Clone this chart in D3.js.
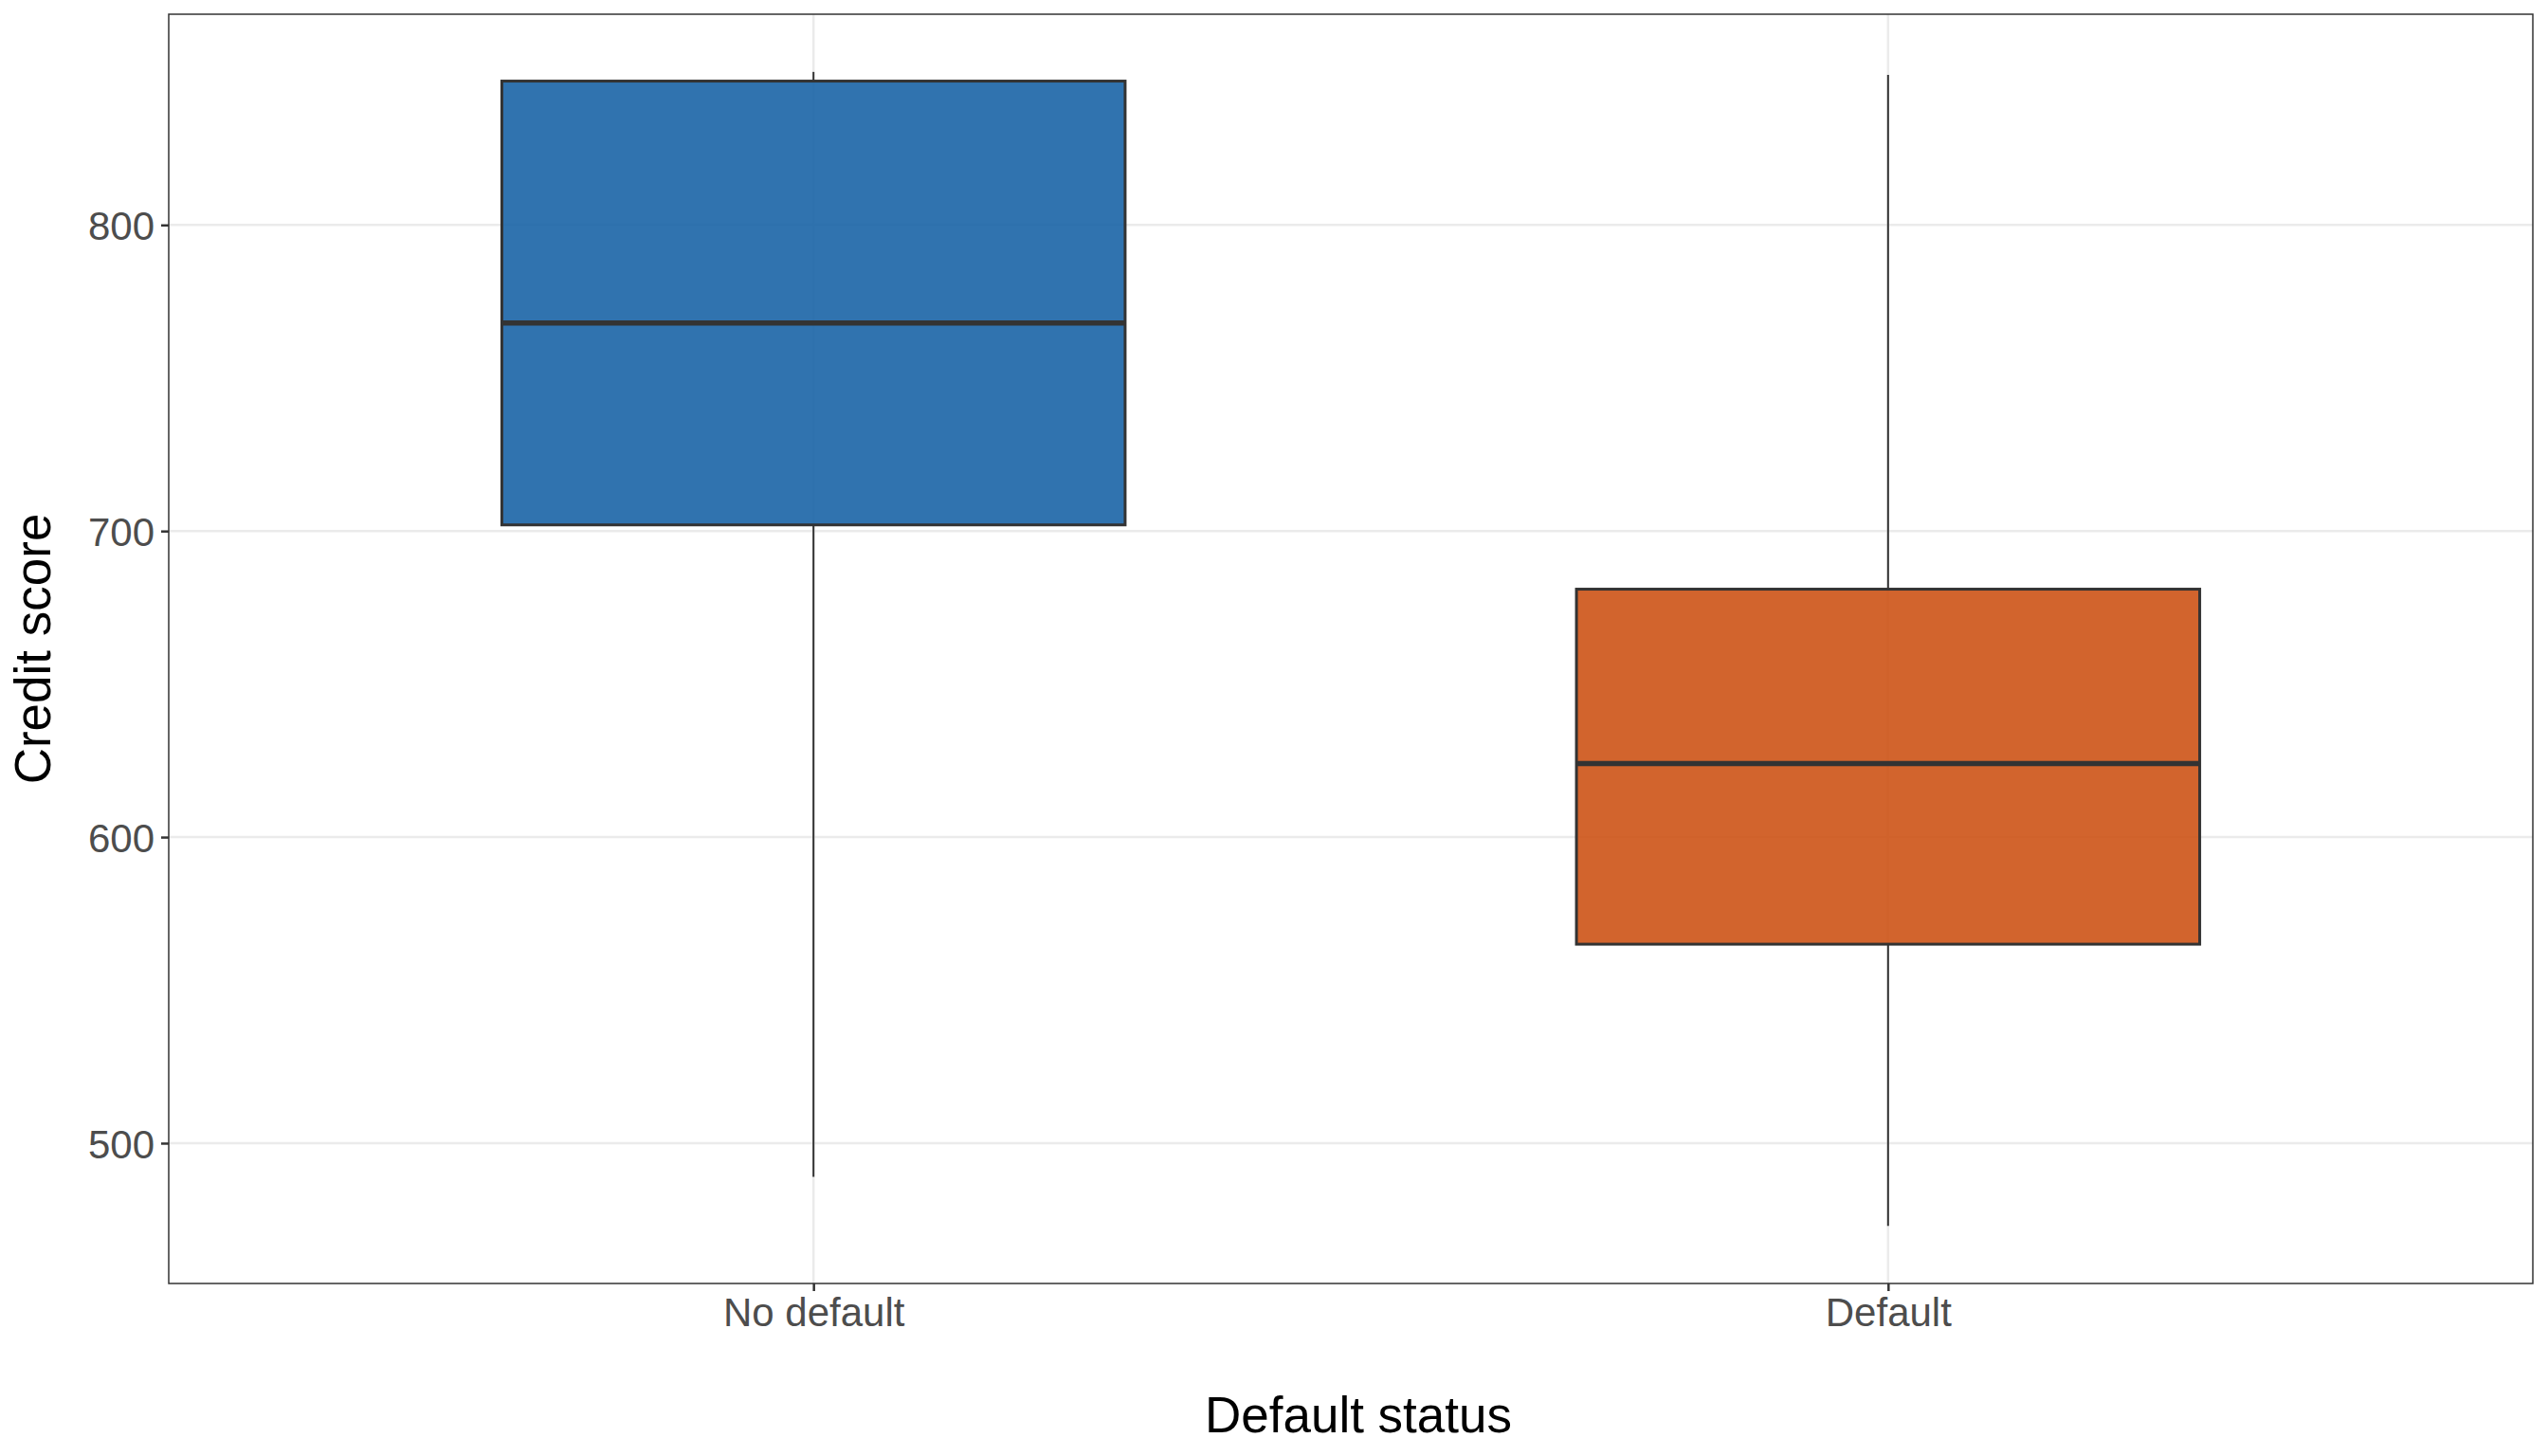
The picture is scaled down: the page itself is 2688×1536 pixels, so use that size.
<!DOCTYPE html>
<html>
<head>
<meta charset="utf-8">
<script src="https://cdn.jsdelivr.net/npm/d3@7"></script>
<style>
  html, body { margin: 0; padding: 0; background: #fff; }
  svg { display: block; }
</style>
</head>
<body>
<div id="canvas"></div>
<script>
// Box plot statistics.
const categories = ["No default", "Default"];
const whiskerLow = [489, 473];
const q1 = [702, 565];
const median = [768, 624];
const q3 = [847, 681];
const whiskerHigh = [850, 849];
const yTicks = [500, 600, 700, 800];
const fillColors = ["#1A64A6", "#CD5316"];

// Dimension and style constants.
const WIDTH = 2688;
const HEIGHT = 1536;
const MARGIN = { top: 15, right: 16, bottom: 182, left: 178 };
const FONT = "'Liberation Sans', Arial, sans-serif";
const LINE_COLOR = "#333333";
const GRID_COLOR = "#EBEBEB";
const TICK_TEXT_COLOR = "#4D4D4D";

const boxes = categories.map((c, i) => ({
    category: c,
    low: whiskerLow[i],
    q1: q1[i],
    median: median[i],
    q3: q3[i],
    high: whiskerHigh[i],
    fill: fillColors[i]
}));

const svg = d3.select("#canvas")
    .append("svg")
    .attr("width", WIDTH)
    .attr("height", HEIGHT);

// Scales: discrete x with ggplot-like 0.6 padding, y with 5% expansion.
const xScale = d3.scalePoint()
    .domain(categories)
    .range([MARGIN.left, WIDTH - MARGIN.right])
    .padding(0.6);

const yMin = d3.min(whiskerLow);
const yMax = d3.max(whiskerHigh);
const yPad = (yMax - yMin) * 0.05;
const yScale = d3.scaleLinear()
    .domain([yMin - yPad, yMax + yPad])
    .range([HEIGHT - MARGIN.bottom, MARGIN.top]);

const boxWidth = xScale.step() * 0.58;

// Grid lines.
const grid = svg.append("g");
grid.selectAll(".hgrid")
    .data(yTicks)
    .join("line")
    .attr("x1", MARGIN.left)
    .attr("x2", WIDTH - MARGIN.right)
    .attr("y1", d => yScale(d))
    .attr("y2", d => yScale(d))
    .attr("stroke", GRID_COLOR)
    .attr("stroke-width", 2.5);
grid.selectAll(".vgrid")
    .data(categories)
    .join("line")
    .attr("x1", d => xScale(d))
    .attr("x2", d => xScale(d))
    .attr("y1", MARGIN.top)
    .attr("y2", HEIGHT - MARGIN.bottom)
    .attr("stroke", GRID_COLOR)
    .attr("stroke-width", 2.5);

// Boxes.
const boxGroups = svg.append("g")
    .selectAll("g")
    .data(boxes)
    .join("g");

boxGroups.append("line")
    .attr("x1", d => xScale(d.category))
    .attr("x2", d => xScale(d.category))
    .attr("y1", d => yScale(d.q3))
    .attr("y2", d => yScale(d.high))
    .attr("stroke", LINE_COLOR)
    .attr("stroke-width", 2);

boxGroups.append("line")
    .attr("x1", d => xScale(d.category))
    .attr("x2", d => xScale(d.category))
    .attr("y1", d => yScale(d.q1))
    .attr("y2", d => yScale(d.low))
    .attr("stroke", LINE_COLOR)
    .attr("stroke-width", 2);

boxGroups.append("rect")
    .attr("x", d => xScale(d.category) - boxWidth / 2)
    .attr("width", boxWidth)
    .attr("y", d => yScale(d.q3))
    .attr("height", d => yScale(d.q1) - yScale(d.q3))
    .attr("fill", d => d.fill)
    .attr("fill-opacity", 0.9)
    .attr("stroke", LINE_COLOR)
    .attr("stroke-width", 3);

boxGroups.append("line")
    .attr("x1", d => xScale(d.category) - boxWidth / 2)
    .attr("x2", d => xScale(d.category) + boxWidth / 2)
    .attr("y1", d => yScale(d.median))
    .attr("y2", d => yScale(d.median))
    .attr("stroke", LINE_COLOR)
    .attr("stroke-width", 5.5);

// Axes.
const xAxis = d3.axisBottom(xScale).tickSize(8).tickPadding(6);
const yAxis = d3.axisLeft(yScale).tickValues(yTicks).tickSize(8).tickPadding(7);

const xAxisGroup = svg.append("g")
    .attr("transform", `translate(0, ${HEIGHT - MARGIN.bottom})`)
    .call(xAxis);
const yAxisGroup = svg.append("g")
    .attr("transform", `translate(${MARGIN.left}, 0)`)
    .call(yAxis);

[xAxisGroup, yAxisGroup].forEach(g => {
    g.select(".domain").remove();
    g.selectAll(".tick line").attr("stroke", LINE_COLOR).attr("stroke-width", 2.5);
    g.selectAll(".tick text")
        .attr("fill", TICK_TEXT_COLOR)
        .attr("font-family", FONT)
        .attr("font-size", 42);
});
xAxisGroup.selectAll(".tick text").attr("dy", null).attr("y", 45);
yAxisGroup.selectAll(".tick text").attr("dy", "0.36em");

// Panel border.
svg.append("rect")
    .attr("x", MARGIN.left)
    .attr("y", MARGIN.top)
    .attr("width", WIDTH - MARGIN.left - MARGIN.right)
    .attr("height", HEIGHT - MARGIN.top - MARGIN.bottom)
    .attr("fill", "none")
    .attr("stroke", LINE_COLOR)
    .attr("stroke-width", 1.5);

// Axis titles.
svg.append("text")
    .attr("x", (MARGIN.left + WIDTH - MARGIN.right) / 2 + 8)
    .attr("y", 1511)
    .attr("text-anchor", "middle")
    .attr("font-family", FONT)
    .attr("font-size", 53)
    .attr("fill", "#000")
    .text("Default status");

svg.append("text")
    .attr("transform", `translate(53, ${(MARGIN.top + HEIGHT - MARGIN.bottom) / 2}) rotate(-90)`)
    .attr("text-anchor", "middle")
    .attr("font-family", FONT)
    .attr("font-size", 53)
    .attr("fill", "#000")
    .text("Credit score");
</script>
</body>
</html>
